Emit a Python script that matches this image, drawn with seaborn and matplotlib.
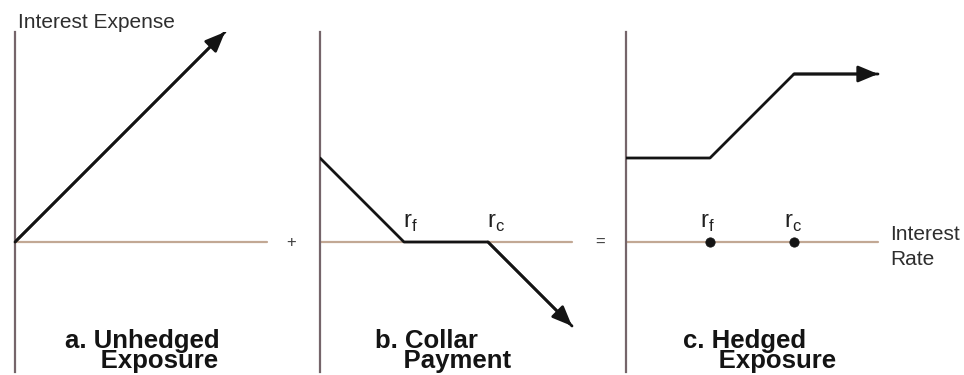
import numpy as np
import pandas as pd
import matplotlib
matplotlib.use("Agg")
import matplotlib.pyplot as plt
import seaborn as sns

# payoff diagrams, rate in strike units (r_f = 1, r_c = 2)
rate_a = [0, 2.5]
expense_a = [0, 2.5]
rate_b = [0, 1, 2, 3]
payment_b = [1, 0, 0, -1]
rate_c = [0, 1, 2, 3]
hedged_c = [1, 1, 2, 2]
strike_rates = [1, 2]
strike_labels = [r"r$_\mathregular{f}$", r"r$_\mathregular{c}$"]
panel_titles = ["a. Unhedged\n     Exposure", "b. Collar\n    Payment", "c. Hedged\n     Exposure"]
operators = ["+", "="]

sns.set_style("white")
plt.rcParams["font.family"] = ["Liberation Sans", "DejaVu Sans"]

W, H = 964, 375
PX = 84.0  # pixels per unit
fig = plt.figure(figsize=(W / 100, H / 100), dpi=100)

axis_v = "#75656a"
axis_h = "#c2a894"
ink = "#141414"
grey_txt = "#2e2e2e"

lefts = [15, 320, 626]
xmax = 3.6
ylo, yhi = -1.55, 2.5
axes = []
for left in lefts:
    ax = fig.add_axes([left / W, (133 + ylo * PX) / H, xmax * PX / W, (yhi - ylo) * PX / H])
    ax.set_xlim(0, xmax)
    ax.set_ylim(ylo, yhi)
    for s in ["top", "right", "bottom"]:
        ax.spines[s].set_visible(False)
    ax.spines["left"].set_color(axis_v)
    ax.spines["left"].set_linewidth(1.6)
    ax.set_xticks([])
    ax.set_yticks([])
    ax.plot([0, 3], [0, 0], color=axis_h, lw=1.6, zorder=1)
    axes.append(ax)


def payoff(ax, xs, ys):
    df = pd.DataFrame({"rate": xs, "value": ys})
    sns.lineplot(data=df, x="rate", y="value", sort=False, color=ink, lw=2.0, ax=ax, zorder=3)
    ax.annotate("", xy=(xs[-1], ys[-1]), xytext=(xs[-2], ys[-2]),
                arrowprops=dict(arrowstyle="-|>,head_length=0.6,head_width=0.25", color=ink,
                                lw=2.0, mutation_scale=20, shrinkA=0, shrinkB=0),
                annotation_clip=False, zorder=4)
    ax.set_xlabel("")
    ax.set_ylabel("")


payoff(axes[0], rate_a, expense_a)
payoff(axes[1], rate_b, payment_b)
payoff(axes[2], rate_c, hedged_c)

axes[0].text(0.04, 2.548, "Interest Expense", fontsize=15, color=grey_txt,
             ha="left", va="baseline", clip_on=False)

# strike labels
for x, lab in zip(strike_rates, strike_labels):
    axes[1].text(x - 0.01, 0.167, lab, fontsize=17, ha="left", va="baseline", color="#202020")
    axes[2].text(x - 0.12, 0.167, lab, fontsize=17, ha="left", va="baseline", color="#202020")
sns.scatterplot(x=strike_rates, y=[0, 0], ax=axes[2], color=ink, s=45, zorder=5, edgecolor=ink)

axes[2].text(3.15, 0.024, "Interest", fontsize=15, color=grey_txt, ha="left", va="baseline")
axes[2].text(3.15, -0.274, "Rate", fontsize=15, color=grey_txt, ha="left", va="baseline")

for ax, op, ox in zip(axes[:2], operators, [3.29, 3.33]):
    ax.text(ox, 0, op, fontsize=12, color="#404040", ha="center", va="center", clip_on=False)

title_x = [0.595, 0.655, 0.679]
for ax, title, x1 in zip(axes, panel_titles, title_x):
    ax.text(x1, -1.03, title, fontsize=18.5, fontweight="bold", color=ink, ha="left", va="top",
            linespacing=0.82, multialignment="left", clip_on=False)

fig.savefig("out.png", dpi=100)
